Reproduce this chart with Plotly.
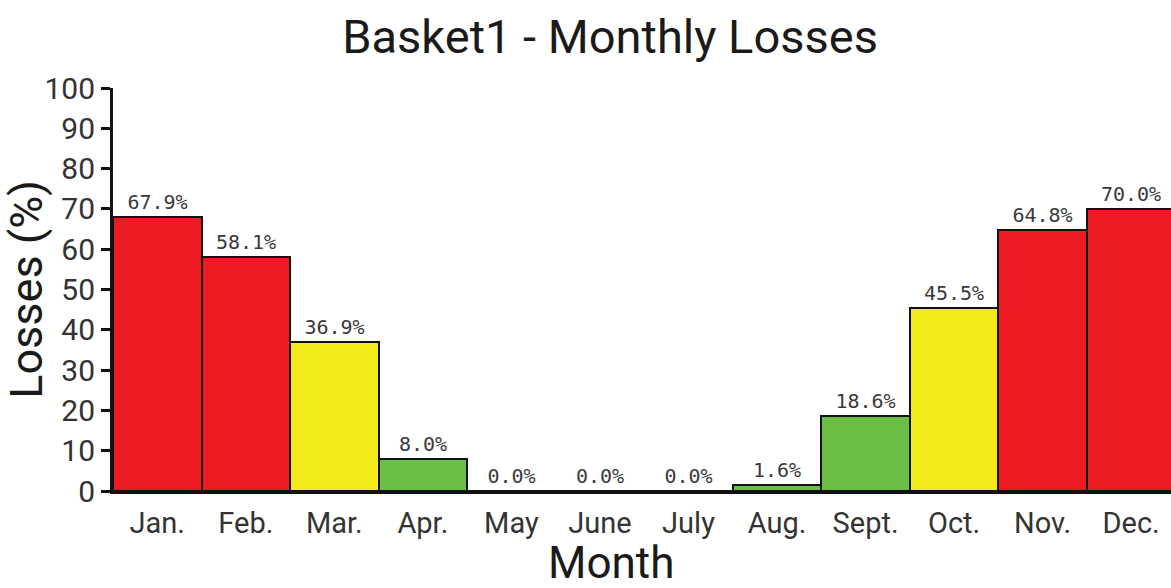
import plotly.graph_objects as go

months = ["Jan.", "Feb.", "Mar.", "Apr.", "May", "June", "July", "Aug.", "Sept.", "Oct.", "Nov.", "Dec."]
losses = [67.9, 58.1, 36.9, 8.0, 0.0, 0.0, 0.0, 1.6, 18.6, 45.5, 64.8, 70.0]
bar_colors = ["#ED1C24", "#ED1C24", "#F2EB19", "#6ABD45", "#6ABD45", "#6ABD45",
              "#6ABD45", "#6ABD45", "#6ABD45", "#F2EB19", "#ED1C24", "#ED1C24"]
y_ticks = [0, 10, 20, 30, 40, 50, 60, 70, 80, 90, 100]

fig = go.Figure(go.Bar(
    x=list(range(len(months))),
    y=losses,
    width=1.0,
    marker=dict(color=bar_colors, line=dict(color="#111111", width=2)),
    texttemplate="%{y:.1f}%",
    textposition="outside",
    textfont=dict(family="DejaVu Sans Mono", size=20, color="#3a3a3a"),
    cliponaxis=False,
))

fig.update_layout(
    width=1171, height=588,
    paper_bgcolor="white", plot_bgcolor="white",
    margin=dict(l=113, r=0, t=88, b=97),
    font=dict(family="Roboto", color="#222222"),
    title=dict(text="Basket1 - Monthly Losses", x=0.521, xanchor="center",
               y=0.937, yanchor="middle", font=dict(size=47, color="#1a1a1a")),
    showlegend=False,
    bargap=0,
    annotations=[dict(text="Month", xref="paper", yref="paper", x=0.471, y=0,
                      xanchor="center", yanchor="middle", yshift=-72, showarrow=False,
                      font=dict(size=44, color="#1a1a1a"))],
)
fig.update_xaxes(
    tickmode="array", tickvals=list(range(len(months))), ticktext=months,
    range=[-0.5, 11.45], showline=True, linecolor="#111111", linewidth=3,
    ticks="", showgrid=False, zeroline=False, automargin=False,
    ticklabelstandoff=4,
    tickfont=dict(size=29, color="#333333"),
)
fig.update_yaxes(
    range=[0, 100], tickvals=y_ticks, showline=True, linecolor="#111111", linewidth=3,
    ticks="outside", ticklen=9, tickwidth=3, tickcolor="#111111",
    showgrid=False, zeroline=False, automargin=False,
    tickfont=dict(size=30, color="#333333"),
    title=dict(text="Losses (%)", font=dict(size=45, color="#1a1a1a"), standoff=0),
)

fig.write_html(
    "out.html",
    config={"displayModeBar": False},
    post_script="document.body.style.margin='0';document.body.style.overflow='hidden';"
                "document.documentElement.style.overflow='hidden';",
)
